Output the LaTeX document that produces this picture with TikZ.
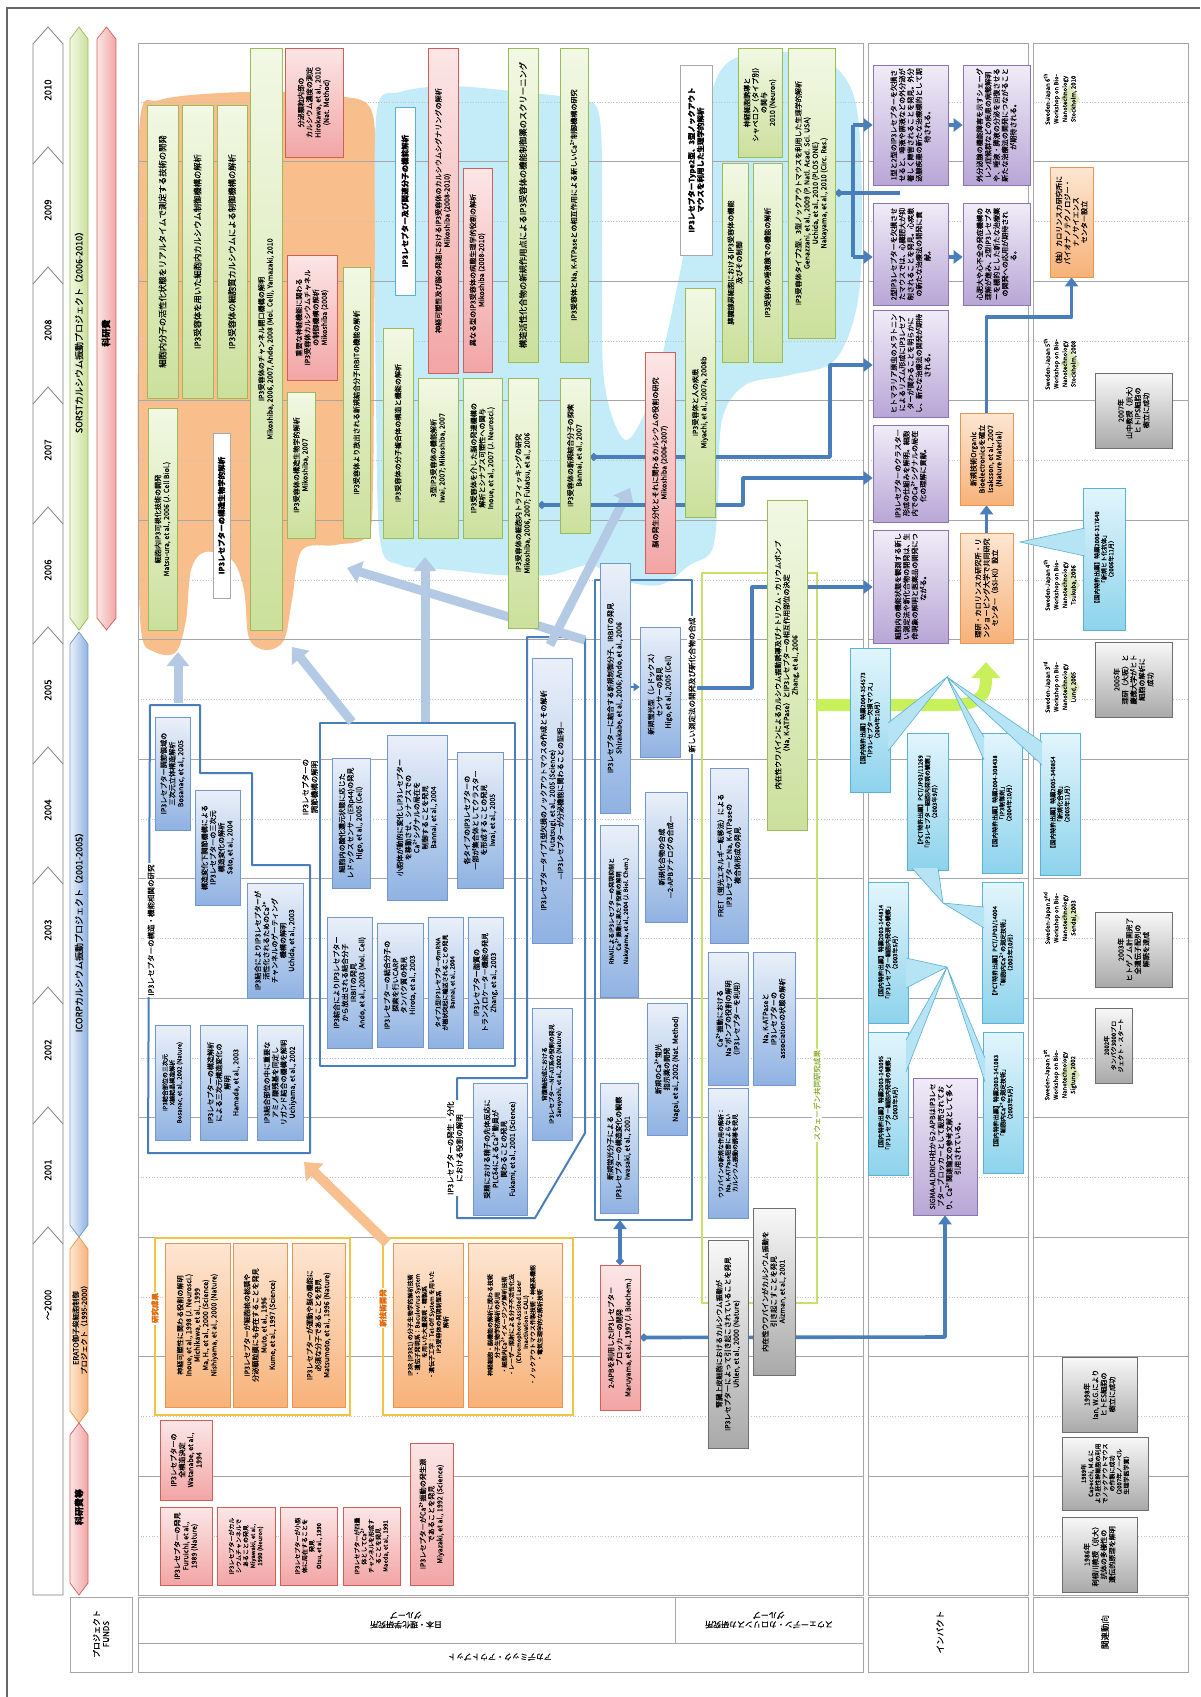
\documentclass[tikz,border=0pt]{standalone}
\usepackage{fontspec}
\setmainfont{Noto Sans CJK JP}[FakeBold=0.3]
\XeTeXlinebreaklocale "ja"
\XeTeXlinebreakskip=0pt plus .2pt
\usetikzlibrary{arrows.meta,shapes.geometric}

\definecolor{grnL}{HTML}{F2F8E4}\definecolor{grnD}{HTML}{CBE09C}\definecolor{grnB}{HTML}{9BBB59}
\definecolor{pnkL}{HTML}{FCE6E6}\definecolor{pnkD}{HTML}{F2A5A5}\definecolor{pnkB}{HTML}{CF5F5A}
\definecolor{bluL}{HTML}{EAF0F9}\definecolor{bluD}{HTML}{8FB2E2}\definecolor{bluB}{HTML}{7397CA}
\definecolor{orgL}{HTML}{FDE6D2}\definecolor{orgD}{HTML}{F7B279}\definecolor{orgB}{HTML}{E8964F}
\definecolor{vioL}{HTML}{F0ECF7}\definecolor{vioD}{HTML}{B8A6D6}\definecolor{vioB}{HTML}{8C74B4}
\definecolor{gryL}{HTML}{F8F8F8}\definecolor{gryD}{HTML}{A9A9A9}\definecolor{gryB}{HTML}{6E6E6E}
\definecolor{cynL}{HTML}{E2F5FC}\definecolor{cynD}{HTML}{8DD3EC}\definecolor{cynM}{HTML}{B6E4F4}\definecolor{cynB}{HTML}{5AB2D2}
\definecolor{conn}{HTML}{4A7EBB}
\definecolor{blobO}{HTML}{F8BF8C}\definecolor{blobB}{HTML}{C4ECF8}
\definecolor{arrLB}{HTML}{B4C9E4}\definecolor{arrO}{HTML}{F8C08E}
\definecolor{gridc}{HTML}{A6A6A6}\definecolor{gold}{HTML}{F5C242}
\definecolor{swg}{HTML}{C9E06B}\definecolor{swt}{HTML}{8FB03A}\definecolor{bigG}{HTML}{C8F05A}
\definecolor{ortx}{HTML}{E46C0A}

\pgfdeclarelayer{bg}\pgfdeclarelayer{mid}\pgfsetlayers{bg,mid,main}

% box given by its page extent: name, style, x1, y1, x2, y2, text
\newcommand\Bx[7]{%
  \pgfmathsetmacro\bxcx{(#3+#5)/2}%
  \pgfmathsetmacro\bxcy{(#4+#6)/2}%
  \pgfmathsetmacro\bxl{#6-#4}%
  \pgfmathsetmacro\bxt{#5-#3}%
  \pgfmathsetmacro\bxw{#6-#4-5}%
  \node[#2,minimum width=\bxl pt,minimum height=\bxt pt,text width=\bxw pt] (#1) at (\bxcx,\bxcy) {#7};}
% callout pointer: base point, base point, tip
\newcommand\Wdg[6]{%
  \fill[cynM] (#1,#2)--(#5,#6)--(#3,#4)--cycle;
  \draw[cynB,line width=.6pt] (#1,#2)--(#5,#6)--(#3,#4);}
% workshop entry with its diamond mark
\newcommand\Wk[4]{%
  \node[diamond,fill=grnD!70,minimum width=20pt,minimum height=30pt,inner sep=0pt] at (1070,#2) {};
  \node[rotate=90,align=flush center,font=\fontsize{6}{8.6}\selectfont] (#1) at (1060,#2) {Sweden-Japan #3\\Workshop on Bio-\\Nanotechnology\\#4};}
% project bar with pointed ends
\newcommand\Pbar[5]{%
  \path[#5] (#1,#3+12)--({(#1+#2)/2},#3)--(#2,#3+12)--(#2,#4-12)--({(#1+#2)/2},#4)--(#1,#4-12)--cycle;}

\tikzset{
 bxbase/.style={rotate=90,align=flush center,inner xsep=2pt,inner ysep=1pt,line width=.6pt,font=\fontsize{7.1}{8.4}\selectfont},
 big/.style={font=\fontsize{8.3}{9.5}\selectfont},
 sml/.style={font=\fontsize{6}{7.1}\selectfont},
 gbox/.style={bxbase,draw=grnB,top color=grnL,bottom color=grnD},
 pbox/.style={bxbase,draw=pnkB,top color=pnkL,bottom color=pnkD},
 bbox/.style={bxbase,draw=bluB,top color=bluL,bottom color=bluD},
 obox/.style={bxbase,draw=orgB,top color=orgL,bottom color=orgD},
 vbox/.style={bxbase,draw=vioB,top color=vioL,bottom color=vioD},
 xbox/.style={bxbase,draw=gryB,top color=gryL,bottom color=gryD},
 cbox/.style={bxbase,draw=cynB,top color=cynL,bottom color=cynD},
 lbox/.style={bxbase,draw=gryD,fill=white,font=\bfseries\fontsize{7.5}{9}\selectfont},
 grp/.style={draw=conn,line width=2pt,line join=round},
 glbl/.style={rotate=90,fill=white,inner sep=1.5pt,align=flush center,font=\fontsize{7.5}{9}\selectfont},
 cn/.style={draw=conn,line width=3.6pt,line join=round,arrows={-Triangle[length=9pt,width=13pt]}},
 cnd/.style={draw=conn,line width=3.6pt,line join=round,arrows={Circle[length=7pt]-Triangle[length=9pt,width=13pt]}},
 cnp/.style={draw=conn,line width=3.6pt,line join=round},
 lba/.style={draw=arrLB,line width=9pt,arrows={-Triangle[length=14pt,width=22pt]}},
 yearc/.style={draw=gray,line width=.8pt},
 barlbl/.style={rotate=90,font=\fontsize{9}{10}\selectfont},
}

\begin{document}
\begin{tikzpicture}[x=1pt,y=-1pt]
\useasboundingbox (0,0) rectangle (1200,1697);

% ---------------- background: frame, blobs, grid ----------------
\begin{pgfonlayer}{bg}
\fill[white] (0,0) rectangle (1200,1697);
\draw[gray!80!black,line width=1.2pt] (7,1697)--(7,8)--(1200,8);

% regions of the SORST period
\fill[blobO] plot[smooth cycle,tension=.55] coordinates {
 (140,120) (160,100) (220,93) (290,92) (340,96) (372,112) (375,200) (374,350) (373,480) (368,535)
 (335,545) (302,550) (292,600) (284,640) (266,650) (249,638) (244,590) (232,560) (205,552) (191,570)
 (186,620) (176,652) (155,652) (141,630) (138,500) (138,300)};
\fill[blobB] plot[smooth cycle,tension=.55] coordinates {
 (377,110) (400,92) (450,86) (520,92) (580,100) (600,120) (602,250) (604,380) (625,440) (650,400)
 (668,330) (688,230) (705,120) (725,65) (770,52) (825,60) (855,100) (862,200) (858,300) (835,360)
 (790,375) (745,385) (722,420) (718,500) (712,550) (690,565) (660,585) (620,580) (590,565) (550,575)
 (500,575) (450,570) (400,565) (380,540) (376,400) (375,250)};

% year grid
\foreach \k in {0,...,24}{
  \pgfmathsetmacro\gy{102+59.75*\k}
  \pgfmathparse{mod(\k,2)==1?1:0}
  \ifnum\pgfmathresult=1
    \foreach \xa/\xb in {138/863,868/1028,1033/1188} \draw[gridc,line width=.7pt] (\xa,\gy)--(\xb,\gy);
  \else
    \foreach \xa/\xb in {138/863,868/1028,1033/1188} \draw[gridc!70,line width=.7pt,dotted] (\xa,\gy)--(\xb,\gy);
  \fi}
\foreach \xa/\xb in {138/863,868/1028,1033/1188} \draw[gridc,line width=.9pt] (\xa,43) rectangle (\xb,1595);
\end{pgfonlayer}

% ---------------- time scale and projects ----------------
\draw[yearc,fill=white] (33,44)--(48,27)--(63,44)--(63,1595)--(33,1595)--cycle;
\foreach \t in {147,267,387,507,627,747,867,987,1107,1227} \draw[yearc] (33,\t+17)--(48,\t)--(63,\t+17);
\foreach \yr/\yy in {2010/90,2009/210,2008/330,2007/450,2006/570,2005/690,2004/810,2003/930,2002/1050,2001/1170}
  \node[rotate=90,font=\fontsize{9.5}{11}\selectfont] (yr\yr) at (48,\yy) {\yr};
\node[rotate=90,font=\fontsize{9.5}{11}\selectfont] (yr2000) at (48,1305) {～2000};

\Pbar{70}{88}{27}{630}{left color=grnL,right color=grnD,draw=grnB,line width=.7pt}
\Pbar{97}{116}{27}{630}{left color=pnkL,right color=pnkD,draw=pnkB,line width=.7pt}
\Pbar{70}{88}{632}{1237}{left color=bluL,right color=bluD,draw=bluB,line width=.7pt}
\Pbar{70}{88}{1237}{1423}{left color=orgL,right color=orgD,draw=orgB,line width=.7pt}
\Pbar{70}{88}{1423}{1595}{left color=pnkL,right color=pnkD,draw=pnkB,line width=.7pt}
\node[barlbl] (pjS) at (79,330) {SORSTカルシウム振動プロジェクト（2006-2010）};
\node[barlbl,font=\bfseries\fontsize{9}{10}\selectfont] (pjK) at (106,333) {科研費};
\node[barlbl] (pjI) at (79,930) {ICORPカルシウム振動プロジェクト（2001-2005）};
\node[rotate=90,align=flush center,font=\fontsize{7.3}{8.3}\selectfont] (pjE) at (80,1328) {ERATO御子柴細胞制御\\プロジェクト（1995-2000）};
\node[barlbl,font=\bfseries\fontsize{9}{10}\selectfont] (pjK2) at (79,1507) {科研費等};

% ---------------- bottom headings ----------------
\draw[gridc,line width=.9pt] (70,1597) rectangle (132,1672);
\node[rotate=90,align=flush center,font=\fontsize{8}{9.5}\selectfont] (hF) at (101,1634) {プロジェクト\\FUNDS};
\draw[gridc,line width=.9pt] (138,1597) rectangle (863,1672);
\draw[gridc,line width=.9pt] (138,1643)--(863,1643) (675,1597)--(675,1643);
\node[rotate=180,align=flush center,font=\fontsize{8}{9.5}\selectfont] (hJ) at (406,1620) {日本・理化学研究所\\グループ};
\node[rotate=180,align=flush center,font=\fontsize{8}{9.5}\selectfont] (hS) at (769,1620) {スウェーデン・カロリンスカ研究所\\グループ};
\node[rotate=180,font=\fontsize{8}{9.5}\selectfont] (hA) at (500,1657) {アカデミック・アウトプット};
\draw[gridc,line width=.9pt] (868,1597) rectangle (1028,1672);
\node[rotate=90,font=\fontsize{8.5}{10}\selectfont] (hI) at (940,1632) {インパクト};
\draw[gridc,line width=.9pt] (1033,1597) rectangle (1188,1672);
\node[rotate=90,font=\fontsize{8.5}{10}\selectfont] (hR) at (1105,1632) {関連動向};

% ---------------- SORST: structural and cellular studies ----------------
\Bx{a1}{gbox,big}{147}{105}{178}{398}{細胞内分子の活性化状態をリアルタイムで測定する技術の開発}
\Bx{a2}{gbox,big}{182}{105}{213}{398}{IP3受容体を用いた細胞内カルシウム制御機構の解析}
\Bx{a3}{gbox,big}{217}{105}{247}{398}{IP3受容体の細胞質カルシウムによる制御機構の解析}
\Bx{a4}{gbox}{250}{48}{282}{630}{IP3受容体のチャンネル開口機構の解明\\Mikoshiba, 2006, 2007, Ando, 2008 (Mol. Cell), Yamazaki, 2010}
\Bx{p1}{pbox}{285}{48}{343}{157}{分泌顆粒内部の\\カルシウム濃度の測定\\Hirokawa, et al., 2010\\(Nat. Method)}
\Bx{p2}{pbox}{287}{255}{337}{380}{重要な神経機能に関わる\\IP3受容体カルシウムチャネル\\の制御機構の解析\\Mikoshiba (2008)}
\Bx{a5}{gbox}{287}{392}{315}{538}{IP3受容体の構造生物学的解析\\Mikoshiba, 2007}
\Bx{a6}{gbox}{343}{267}{370}{538}{IP3受容体より放出される新規結合分子IRBITの機能の解析}
\Bx{a7}{gbox}{383}{328}{413}{538}{IP3受容体の分子複合体の構造と機能の解析}
\Bx{a8}{gbox}{148}{408}{177}{630}{細胞内IP3可視化技術の開発\\Matsu-ura, et al., 2006 (J. Cell Biol.)}
\Bx{l1}{lbox}{213}{433}{230}{598}{IP3レセプターの構造生物学的解析}
\Bx{l2}{lbox,draw=cynB}{395}{107}{415}{295}{IP3レセプター及び関連分子の機能解析}

\Bx{p3}{pbox}{428}{48}{458}{373}{神経可塑性及び脳の発達におけるIP3受容体のカルシウムシグナリングの解析\\Mikoshiba (2008-2010)}
\Bx{p4}{pbox}{463}{168}{492}{372}{異なる型のIP3受容体の病態生理学的役割の解析\\Mikoshiba (2008-2010)}
\Bx{a9}{gbox,big}{508}{48}{538}{362}{構造活性化合物の新規作用点によるIP3受容体の機能制御薬のスクリーニング}
\Bx{a10}{gbox}{560}{48}{588}{362}{IP3受容体とNa, K-ATPaseとの相互作用による新しいCa\textsuperscript{2+}制御機構の研究}
\Bx{b1}{gbox}{418}{378}{458}{538}{3型IP3受容体の機能解析\\Iwai, 2007; Mikoshiba, 2007}
\Bx{b2}{gbox}{463}{378}{502}{538}{IP3受容体を介した脳の発達機構の\\解析とシナプス可塑性への関与\\Inoue, et al., 2007 (J. Neurosci.)}
\Bx{b3}{gbox}{508}{378}{538}{628}{IP3受容体の細胞内トラフィッキングの研究\\Mikoshiba, 2006, 2007; Fukatsu, et al., 2006}
\Bx{b4}{gbox}{560}{378}{590}{533}{IP3受容体の新規結合分子の探索\\Bannai, et al., 2007}
\Bx{p7}{pbox}{645}{352}{675}{573}{脳の発生分化とそれに関わるカルシウムの役割の研究\\Mikoshiba (2006-2007)}
\Bx{l3}{lbox}{680}{65}{712}{255}{IP3レセプターType2型、3型ノックアウト\\マウスを利用した生理学的解析}
\Bx{g5}{gbox}{685}{288}{715}{517}{IP3受容体と人の疾患\\Miyachi, et al., 2007a, 2008b}
\Bx{g1}{gbox}{738}{48}{782}{157}{神経細胞誘導と\\シャペロン（タイプ別）\\の関与\\2010 (Neuron)}
\Bx{g3}{gbox}{722}{163}{748}{362}{膵臓腺房細胞におけるIP3受容体の機能\\及びその制御}
\Bx{g4}{gbox}{753}{163}{782}{362}{IP3受容体の唾液腺での機能の解析}
\Bx{g2}{gbox}{788}{48}{835}{338}{IP3受容体タイプ2型、3型ノックアウトマウスを利用した生理学的解析\\Genazzani, et al., 2009 (P. Natl. Acad. Sci. USA)\\Uchida, et al., 2010 (PLOS ONE)\\Nakayama, et al., 2010 (Circ. Res.)}

% ---------------- ICORP: structure and function ----------------
\Bx{s1}{bbox}{155}{717}{190}{830}{IP3レセプター調節領域の\\三次元立体構造解析\\Bosanac, et al., 2005}
\Bx{s2}{bbox}{195}{790}{240}{905}{構造変化下調節機構による\\IP3レセプターの三次元\\構造変化の解析\\Sato, et al., 2004}
\Bx{s3}{bbox}{247}{883}{303}{998}{IP3結合によりIP3レセプターが\\活性化されるためのCa\textsuperscript{2+}\\チャンネルのゲーティング\\機構の解明\\Uchida, et al., 2003}
\Bx{s4}{bbox,sml}{155}{1025}{190}{1140}{IP3結合部位の三次元\\X線結晶構造解析\\Bosanac, et al., 2002 (Nature)}
\Bx{s5}{bbox}{200}{1025}{247}{1140}{IP3レセプターの構造解析\\による三次元構造変化の\\解明\\Hamada, et al., 2003}
\Bx{s6}{bbox}{257}{1025}{303}{1140}{IP3結合部位の中に重要な\\アミノ酸残基を同定し\\リガンド結合の機構を解明\\Uchiyama, et al., 2002}

\Bx{q1}{bbox}{332}{758}{370}{888}{細胞内の酸化還元状態に応じた\\レドックスセンサー(ERp44)の発見\\Higo, et al., 2005 (Cell)}
\Bx{q2}{bbox}{387}{735}{447}{900}{小胞体が動的に変化しIP3レセプター\\を移動させ、シナプスでの\\Ca\textsuperscript{2+}シグナルの局在を\\制御することを発見\\Bannai, et al., 2004}
\Bx{q3}{bbox}{457}{752}{503}{888}{各タイプのIP3レセプターの\\一部が集合体としてクラスター\\を形成することの発見\\Iwai, et al., 2005}
\Bx{q4}{bbox}{327}{917}{372}{1048}{IP3結合によりIP3レセプター\\から放出される結合分子\\IRBITの発見\\Ando, et al., 2003 (Mol. Cell)}
\Bx{q5}{bbox}{377}{923}{423}{1047}{IP3レセプターの結合分子の\\探索を行いCARP\\タンパク質の発見\\Hirota, et al., 2003}
\Bx{q6}{bbox,sml}{428}{917}{463}{1048}{タイプ1型IP3レセプターのmRNA\\が樹状突起に輸送されることの発見\\Bannai, et al., 2004}
\Bx{q7}{bbox}{468}{917}{503}{1048}{IP3レセプター脂質の\\トランスロケーター機能の発見\\Zhang, et al., 2003}

\Bx{d1}{bbox}{532}{658}{572}{943}{IP3レセプタータイプ1型欠損のノックアウトマウスの作成とその解析\\Futatsugi, et al., 2005 (Science)\\—IP3レセプターが分泌機能に関わることの証明—}
\Bx{d2}{bbox,sml}{532}{1008}{572}{1140}{背腹軸形成における\\IP3レセプター-NF-AT系の役割の発見\\Saneyoshi, et al., 2002 (Nature)}
\Bx{d3}{bbox}{473}{1083}{527}{1215}{受精における精子の先体反応に\\PLCδ4によるCa\textsuperscript{2+}動員が\\関わることの発見\\Fukami, et al., 2001 (Science)}

\Bx{n1}{bbox}{600}{563}{630}{813}{IP3レセプターに結合する新規制御分子、IRBITの発見\\Shirakabe, et al., 2006; Ando, et al., 2006}
\Bx{n2}{bbox}{640}{627}{680}{757}{新規蛍光型（レドックス）\\センサーの発見\\Higo, et al., 2005 (Cell)}
\Bx{n3}{bbox,sml}{600}{825}{638}{997}{RNAiによるIP3レセプターの発現抑制と\\Ca\textsuperscript{2+}振動に果たす役割の解明\\Nakayama, et al., 2004 (J. Biol. Chem.)}
\Bx{n4}{bbox}{645}{792}{687}{922}{新規化合物の合成\\—2-APBアナログの合成—}
\Bx{n5}{bbox}{600}{1083}{638}{1213}{新規蛍光分子による\\IP3レセプターの構造変化の観察\\Iwasaki, et al., 2001}
\Bx{n6}{bbox}{647}{1003}{687}{1135}{新規のCa\textsuperscript{2+}蛍光\\指示薬の開発\\Nagai, et al., 2002 (Nat. Method)}

% ---------------- joint research with Sweden ----------------
\Bx{sw1}{gbox}{767}{500}{807}{830}{内在性ウワバインによるカルシウム振動誘導及びナトリウム・カリウムポンプ\\（Na, K-ATPase）とIP3レセプターの相互作用部位の決定\\Zhang, et al., 2006}
\Bx{sw2}{bbox}{710}{768}{748}{943}{FRET（蛍光エネルギー転移法）による\\IP3レセプターとNa, K-ATPaseの\\複合体形成の発見}
\Bx{sw3}{bbox}{708}{952}{748}{1085}{Ca\textsuperscript{2+}振動における\\Na\textsuperscript{+}ポンプの役割の解明\\（IP3レセプターを利用）}
\Bx{sw4}{bbox}{753}{952}{795}{1085}{Na, K-ATPaseと\\IP3レセプターの\\associationの状態の解析}
\Bx{sw5}{bbox,sml}{708}{1088}{748}{1218}{ウワバインの新規な作用の解析：\\Na, K-ATPase阻害によらない\\カルシウム振動の誘導を発見}
\Bx{sw6}{xbox}{753}{1208}{795}{1375}{内在性ウワバインがカルシウム振動を\\引き起こすことを発見\\Aizman, et al., 2001}
\Bx{sw7}{xbox}{708}{1240}{748}{1448}{腎臓上皮細胞におけるカルシウム振動が\\IP3レセプターによって引き起こされていることを発見\\Uhlen, et al., 2000 (Nature)}

% ---------------- ERATO and earlier ----------------
\Bx{apb}{pbox}{600}{1265}{640}{1410}{2-APBを利用したIP3レセプター\\ブロッカーの開発\\Maruyama, et al., 1997 (J. Biochem.)}
\Bx{e1}{obox}{165}{1243}{230}{1407}{神経可塑性に関わる役割の解明\\Inoue, et al., 1998 (J. Neurosci.)\\Michikawa, et al., 1999\\Ma, H., et al., 2000 (Science)\\Nishiyama, et al., 2000 (Nature)}
\Bx{e2}{obox}{233}{1243}{287}{1407}{IP3レセプターが細胞核の核膜や\\分泌顆粒膜にも存在することを発見\\Muto, et al., 1996\\Kume, et al., 1997 (Science)}
\Bx{e3}{obox}{292}{1243}{345}{1407}{IP3レセプターが運動や脳の機能に\\必須な分子であることを発見\\Matsumoto, et al., 1996 (Nature)}
\Bx{e4}{obox,sml}{393}{1243}{463}{1407}{IP3R (IP3R1) の分子生物学的解析技術\\・遺伝子発現系：Baculovirus System\\　を用いた大量発現・精製系\\・遺伝子工学：Tet-Off System を用いた\\　IP3受容体の発現制御系\\　解析}
\Bx{e5}{obox,sml}{468}{1243}{562}{1407}{神経細胞・脳機能の解析に関わる技術\\分子生物学的解析の利用\\・細胞内Ca\textsuperscript{2+}イメージング解析技術\\・レーザー照射による分子不活性化法\\　(Chromophore-Assisted Laser\\　Inactivation = CALI)\\・ノックアウトマウス作製技術・神経系機能\\・電気生理学的な解析技術}
\Bx{k1}{pbox}{160}{1420}{212}{1500}{IP3レセプターの\\全構造決定\\Watanabe, et al.,\\1994}
\Bx{k2}{pbox}{160}{1507}{212}{1585}{IP3レセプターの発見\\Furuichi, et al.,\\1989 (Nature)}
\Bx{k3}{pbox,sml}{217}{1507}{275}{1585}{IP3レセプターがカル\\シウムチャンネルで\\あることの発見\\Miyawaki, et al.,\\1990 (Neuron)}
\Bx{k4}{pbox,sml}{280}{1507}{337}{1585}{IP3レセプターが小胞\\体に局在することを\\発見\\Otsu, et al., 1990}
\Bx{k5}{pbox,sml}{343}{1507}{400}{1585}{IP3レセプターが四量\\体としてCa\textsuperscript{2+}\\チャンネルを形成す\\ることを発見\\Maeda, et al., 1991}
\Bx{k6}{pbox}{410}{1443}{453}{1585}{IP3レセプターがCa\textsuperscript{2+}振動の発生源\\であることを発見\\Miyazaki, et al., 1992 (Science)}

% ---------------- impact ----------------
\Bx{i1}{vbox}{873}{65}{948}{185}{1型と2型のIP3レセプターを欠損させると、唾液や膵液などの外分泌が著しく障害されることを発見。外分泌腺疾患の新たな治療標的として期待される。}
\Bx{i2}{vbox}{873}{203}{948}{305}{2型IP3レセプターを欠損させたマウスでは、心臓肥大が抑制されることを発見。心疾患の新たな治療法の開発に貢献。}
\Bx{i3}{vbox}{963}{65}{1030}{185}{外分泌腺の機能障害を示すシェーグレン症候群などの疾患の病態解明や、唾液・膵液の分泌を回復させる新たな治療法の開発につながることが期待される。}
\Bx{i4}{vbox}{963}{203}{1030}{305}{心肥大や心不全の発症機構の理解が進み、2型IP3レセプターを標的とした新たな治療薬の開発への応用が期待される。}
\Bx{i5}{vbox}{873}{310}{948}{417}{ヒトマラリア原虫のメラトニンによるリズム形成にIP3レセプターが関わることを明らかにし、新たな治療法の開発が期待される。}
\Bx{i8}{vbox}{873}{425}{948}{522}{IP3レセプターのクラスター形成の仕組みを解明。細胞内でのCa\textsuperscript{2+}シグナルの局在化の理解に貢献。}
\Bx{i9}{vbox}{873}{530}{948}{643}{細胞内の機能状態を観測する新しい測定法や新化合物の開発は、生命現象の解明と医薬品の開発につながる。}
\Bx{i6}{obox}{960}{413}{1013}{505}{新規技術Organic\\Bioelectronicsを確立\\Isaksson, et al., 2007\\(Nature Material)}
\Bx{i10}{obox}{960}{533}{1013}{643}{理研・カロリンスカ研究所・リンショーピング大学で共同研究センター（BSI-KI）設立}
\Bx{i7}{obox}{1050}{167}{1093}{277}{（独）カロリンスカ研究所に\\バイオナノテクノロジー・\\ナノサイエンス\\センター設立}
\Bx{i11}{vbox}{913}{1078}{977}{1215}{SIGMA-ALDRICH社から2-APBはIP3レセプターブロッカーとして販売されており、Ca\textsuperscript{2+}関連論文の参考文献として多く引用されている。}

\Bx{c9}{cbox,sml}{1083}{488}{1125}{630}{【国内特許出願】特願2006-317640\\「新規ヒト化抗体」\\（2006年11月）}
\Bx{c1}{cbox,sml}{850}{648}{890}{792}{【国内特許出願】特願2004-354573\\「IP3レセプター欠損マウス」\\（2004年10月）}
\Bx{c2}{cbox,sml}{907}{733}{948}{870}{【PCT特許出願】PCT/JP03/11269\\「IP3レセプター細胞内発現の観察」\\（2003年9月）}
\Bx{c3}{cbox,sml}{982}{733}{1022}{873}{【国内特許出願】特願2004-308438\\「IP3制御剤」\\（2004年10月）}
\Bx{c4}{cbox,sml}{1040}{733}{1080}{875}{【国内特許出願】特願2005-340854\\「新規化合物」\\（2005年11月）}
\Bx{c5}{cbox,sml}{868}{882}{908}{1023}{【国内特許出願】特願2003-144814\\「IP3レセプター細胞内発現の観察」\\（2003年5月）}
\Bx{c6}{cbox,sml}{982}{882}{1023}{1023}{【PCT特許出願】PCT/JP03/14004\\「細胞内Ca\textsuperscript{2+}の測定技術」\\（2003年10月）}
\Bx{c7}{cbox,sml}{868}{1032}{908}{1175}{【国内特許出願】特願2003-143095\\「IP3レセプター細胞内発現の観察」\\（2003年5月）}
\Bx{c8}{cbox,sml}{983}{1032}{1023}{1173}{【国内特許出願】特願2003-141083\\「細胞内Ca\textsuperscript{2+}の測定技術」\\（2003年5月）}
\Wdg{888}{723}{888}{751}{947}{677}
\Wdg{984}{737}{984}{760}{947}{677}
\Wdg{1042}{742}{1042}{765}{947}{677}
\Wdg{912}{868}{938}{868}{943}{903}
\Wdg{984}{907}{984}{928}{943}{903}
\Wdg{906}{958}{906}{988}{947}{967}
\Wdg{906}{1040}{906}{1072}{947}{967}
\Wdg{985}{1058}{985}{1082}{947}{967}
\Wdg{1085}{528}{1085}{556}{1020}{542}

% ---------------- related events ----------------
\Bx{rl1}{xbox}{1095}{373}{1172}{448}{2007年\\山中教授（京大）\\ヒトiPS細胞の\\樹立に成功}
\Bx{rl2}{xbox}{1095}{642}{1172}{717}{2005年\\理研（大阪）と\\慶應大学がヒト\\細胞の解析に\\成功}
\Bx{rl3}{xbox}{1095}{912}{1172}{987}{2003年\\ヒトゲノム計画完了\\全遺伝子配列の\\解読を達成}
\Bx{rl4}{xbox,sml}{1095}{1008}{1132}{1083}{2002年\\タンパク3000プロ\\ジェクト・スタート}
\Bx{rl5}{xbox}{1062}{1357}{1137}{1432}{1998年\\Ian, W.G.により\\ヒトES細胞の\\樹立に成功}
\Bx{rl6}{xbox,sml}{1062}{1437}{1148}{1510}{1989年\\Capecchi, M.G.に\\より胚性幹細胞の利用\\でノックアウトマウス\\の作製に成功\\（2007年ノーベル\\生理学医学賞）}
\Bx{rl7}{xbox}{1062}{1517}{1137}{1592}{1986年\\利根川教授（京大）\\抗体の多様性の\\遺伝的原理を解明}
\Wk{w6}{99}{6\textsuperscript{th}}{Stockholm, 2010}
\Wk{w5}{364}{5\textsuperscript{th}}{Stockholm, 2008}
\Wk{w4}{585}{4\textsuperscript{th}}{Tsukuba, 2006}
\Wk{w3}{687}{3\textsuperscript{rd}}{Lund, 2005}
\Wk{w2}{918}{2\textsuperscript{nd}}{Sendai, 2003}
\Wk{w1}{1075}{1\textsuperscript{st}}{Sigtuna, 2002}

% ---------------- group frames, light arrows and connectors ----------------
\begin{pgfonlayer}{mid}
\draw[grp] (150,705)--(200,705)--(200,773)--(252,773)--(252,865)--(310,865)--(310,1153)--(148,1153)--cycle;
\draw[grp] (320,723) rectangle (515,1066);
\draw[grp] (527,637)--(585,637)--(585,1133)--(535,1218)--(457,1218)--(457,1078)--(527,1078)--cycle;
\draw[grp] (595,580) rectangle (692,1220);
\draw[swg,line width=1.6pt] (702,573) rectangle (817,1303);
\draw[gold,line width=1.5pt] (155,1238) rectangle (350,1415);
\draw[gold,line width=1.5pt] (383,1238) rectangle (573,1415);

\draw[lba] (178,703)--(178,652);
\draw[lba] (352,722)--(292,647);
\draw[lba] (425,722)--(425,557);
\draw[lba] (585,640)--(347,568);
\draw[lba] (550,645)--(630,488);
\draw[draw=arrO,line width=10pt,arrows={-Triangle[length=15pt,width=24pt]}] (387,1243)--(304,1162);
\draw[draw=bigG,line width=12pt,arrows={-Triangle[length=16pt,width=28pt]}] (817,705)--(950,705) .. controls (986,705) and (986,690) .. (986,662);

\coordinate (k1) at (830,457); \coordinate (k2) at (830,365);
\draw[cnd] (b4.south |- k1)--(k1)--(k2)--(i5.north |- k2);
\coordinate (k3) at (743,505); \coordinate (k4) at (743,478);
\draw[cnd] (b3.south |- k3)--(k3)--(k4)--(i8.north |- k4);
\coordinate (gnE) at (692,688); \coordinate (k5) at (752,688); \coordinate (k6) at (752,587);
\draw[cn] (gnE)--(k5)--(k6)--(i9.north |- k6);
\coordinate (k7) at (900,193); \coordinate (k8) at (853,125); \coordinate (k9) at (853,257);
\draw[cnp,arrows={Circle[length=7pt]-}] (g2.south |- k7)--(k7);
\draw[cnp] (k8)--(k9);
\draw[cn] (k8)--(i1.north |- k8);
\draw[cn] (k9)--(i2.north |- k9);
\draw[cn] (i1.south)--(i3.north);
\draw[cn] (i2.south |- k9)--(i4.north |- k9);
\draw[cn] (i10.east)--(i6.west);
\coordinate (k10) at (986.5,317); \coordinate (k11) at (1071.5,317);
\draw[cn] (i6.east)--(k10)--(k11)--(i7.west);
\coordinate (gnS) at (620,1220);
\draw[cnd] (apb.east)--(gnS);
\coordinate (k12) at (945,1337);
\draw[cnd] (apb.south)--(k12)--(i11.west);
\coordinate (k13) at (635,687);
\draw[draw=conn,line width=2pt,arrows={-Triangle[length=6pt,width=8pt]}] (n1.south |- k13)--(n2.north |- k13);
\end{pgfonlayer}

\node[glbl] (tS) at (151,930) {IP3レセプターの構造・機能相関の研究};
\node[glbl] (tR) at (310,787) {IP3レセプターの\\調節機構の解明};
\node[glbl] (tD) at (455,1148) {IP3レセプターの発生・分化\\における役割の解明};
\node[glbl] (tN) at (692,685) {新しい測定法の開発及び新化合物の合成};
\node[glbl,text=swt] (tW) at (817,1095) {スウェーデン共同研究成果};
\node[glbl,text=ortx,font=\bfseries\fontsize{7.5}{9}\selectfont] (tE1) at (155,1308) {研究成果};
\node[glbl,text=ortx,font=\bfseries\fontsize{7.5}{9}\selectfont] (tE2) at (383,1308) {新技術開発};
\end{tikzpicture}
\end{document}
